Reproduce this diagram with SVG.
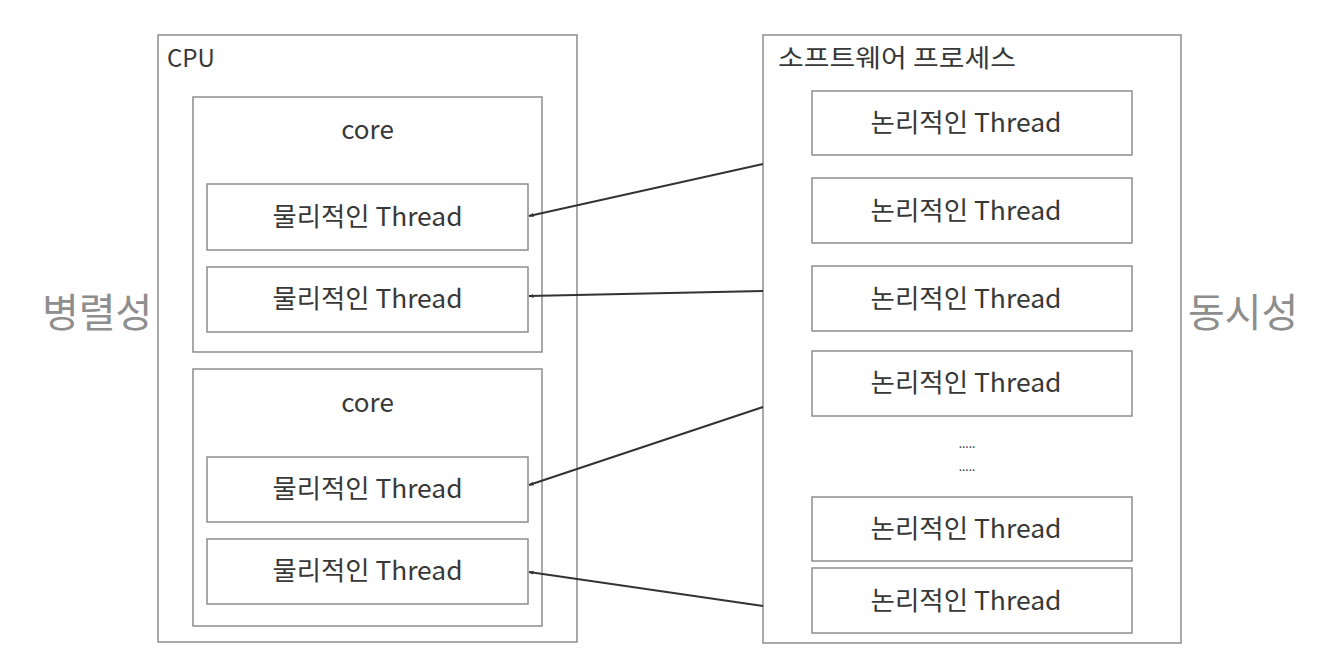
<svg xmlns="http://www.w3.org/2000/svg" width="1344" height="655" viewBox="0 0 1344 655">
<defs>
<marker id="ah" viewBox="0 0 10 10" refX="9" refY="5" markerWidth="5" markerHeight="5" orient="auto-start-reverse" markerUnits="userSpaceOnUse">
<path d="M0,1 L10,5 L0,9 z" fill="#333"/>
</marker>
</defs>
<style>
.box{fill:#fff;stroke:#858585;stroke-width:1.4}
.t{font-family:"Noto Sans CJK KR","Noto Sans",sans-serif;fill:#383838}
.th{font-size:26px;text-anchor:middle}
.big{font-family:"Noto Sans CJK KR",sans-serif;font-size:40px;fill:#8e8e8e}
.con{stroke:#333;stroke-width:2;fill:none}
</style>
<rect width="1344" height="655" fill="#fff"/>
<g id="label-parallel"><text class="big" x="42" y="327">병렬성</text></g>
<g id="label-concurrent"><text class="big" x="1188" y="327">동시성</text></g>
<g id="cpu">
<rect class="box" x="158" y="35" width="419" height="607"/>
<text class="t" x="167" y="67" font-size="24">CPU</text>
</g>
<g id="core1">
<rect class="box" x="193" y="97" width="349" height="255"/>
<text class="t th" x="367.5" y="139" font-size="23">core</text>
</g>
<g id="pthread1"><rect class="box" x="207" y="184" width="321" height="66"/><text class="t th" x="367.5" y="226" textLength="190" lengthAdjust="spacingAndGlyphs">물리적인 Thread</text></g>
<g id="pthread2"><rect class="box" x="207" y="267" width="321" height="65"/><text class="t th" x="367.5" y="308" textLength="190" lengthAdjust="spacingAndGlyphs">물리적인 Thread</text></g>
<g id="core2">
<rect class="box" x="193" y="369" width="349" height="257"/>
<text class="t th" x="367.5" y="412" font-size="23">core</text>
</g>
<g id="pthread3"><rect class="box" x="207" y="457" width="321" height="65"/><text class="t th" x="367.5" y="498" textLength="190" lengthAdjust="spacingAndGlyphs">물리적인 Thread</text></g>
<g id="pthread4"><rect class="box" x="207" y="539" width="321" height="65"/><text class="t th" x="367.5" y="580" textLength="190" lengthAdjust="spacingAndGlyphs">물리적인 Thread</text></g>
<g id="process">
<rect class="box" x="763" y="35" width="418" height="608"/>
<text class="t" x="778" y="67" font-size="25" textLength="238" lengthAdjust="spacingAndGlyphs">소프트웨어 프로세스</text>
</g>
<g id="lthread1"><rect class="box" x="812" y="91" width="320" height="64"/><text class="t th" x="966" y="132" textLength="191" lengthAdjust="spacingAndGlyphs">논리적인 Thread</text></g>
<g id="lthread2"><rect class="box" x="812" y="178" width="320" height="65"/><text class="t th" x="966" y="220" textLength="191" lengthAdjust="spacingAndGlyphs">논리적인 Thread</text></g>
<g id="lthread3"><rect class="box" x="812" y="266" width="320" height="65"/><text class="t th" x="966" y="308" textLength="191" lengthAdjust="spacingAndGlyphs">논리적인 Thread</text></g>
<g id="lthread4"><rect class="box" x="812" y="351" width="320" height="65"/><text class="t th" x="966" y="392" textLength="191" lengthAdjust="spacingAndGlyphs">논리적인 Thread</text></g>
<g id="dots">
<text class="t" x="967" y="448" font-size="12" text-anchor="middle" fill="#666">.....</text>
<text class="t" x="967" y="471" font-size="12" text-anchor="middle" fill="#666">.....</text>
</g>
<g id="lthread5"><rect class="box" x="812" y="497" width="320" height="64"/><text class="t th" x="966" y="538" textLength="191" lengthAdjust="spacingAndGlyphs">논리적인 Thread</text></g>
<g id="lthread6"><rect class="box" x="812" y="568" width="320" height="65"/><text class="t th" x="966" y="610" textLength="191" lengthAdjust="spacingAndGlyphs">논리적인 Thread</text></g>
<g id="connectors">
<line class="con" x1="763" y1="164" x2="529" y2="216" marker-end="url(#ah)"/>
<line class="con" x1="763" y1="291" x2="529" y2="296" marker-end="url(#ah)"/>
<line class="con" x1="763" y1="407" x2="529" y2="485" marker-end="url(#ah)"/>
<line class="con" x1="763" y1="606" x2="529" y2="572" marker-end="url(#ah)"/>
</g>
</svg>
